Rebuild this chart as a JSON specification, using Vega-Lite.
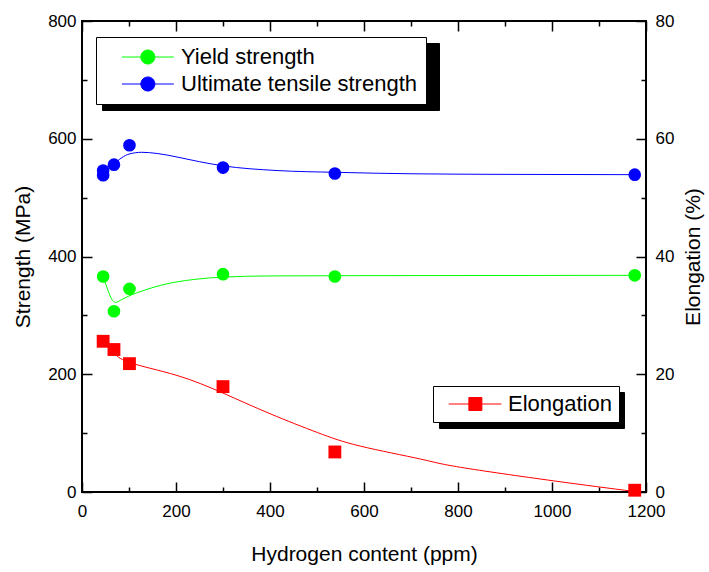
{
  "$schema": "https://vega.github.io/schema/vega-lite/v6.json",
  "width": 564,
  "height": 471,
  "autosize": "none",
  "padding": {"left": 82, "top": 21, "right": 63, "bottom": 80},
  "background": "white",
  "config": {
    "font": "Liberation Sans",
    "view": {"stroke": "black", "strokeWidth": 2},
    "axis": {
      "domain": false,
      "grid": false,
      "format": "d",
      "labelFont": "Liberation Sans",
      "labelFontSize": 17,
      "labelColor": "black",
      "labelOverlap": false,
      "labelFlush": false,
      "labelBound": false,
      "titleFont": "Liberation Sans",
      "titleFontSize": 21,
      "titleFontWeight": "normal",
      "titleColor": "black",
      "tickColor": "black",
      "tickWidth": 1.5
    },
    "legend": {
      "labelFont": "Liberation Sans",
      "labelFontSize": 22,
      "labelColor": "black",
      "labelLimit": 400,
      "symbolStrokeWidth": 1,
      "symbolOpacity": 1,
      "orient": "none"
    }
  },
  "datasets": {
    "strengthPts": [
      {"series": "Yield strength", "h": 45, "v": 366},
      {"series": "Yield strength", "h": 68, "v": 307},
      {"series": "Yield strength", "h": 101, "v": 345},
      {"series": "Yield strength", "h": 300, "v": 370},
      {"series": "Yield strength", "h": 538, "v": 366},
      {"series": "Yield strength", "h": 1176, "v": 368},
      {"series": "Ultimate tensile strength", "h": 45, "v": 538},
      {"series": "Ultimate tensile strength", "h": 45, "v": 546},
      {"series": "Ultimate tensile strength", "h": 68, "v": 556},
      {"series": "Ultimate tensile strength", "h": 101, "v": 589},
      {"series": "Ultimate tensile strength", "h": 300, "v": 551},
      {"series": "Ultimate tensile strength", "h": 538, "v": 541},
      {"series": "Ultimate tensile strength", "h": 1176, "v": 539}
    ],
    "strengthFit": [
      {"series": "Yield strength", "h": 47, "v": 362},
      {"series": "Yield strength", "h": 55, "v": 343},
      {"series": "Yield strength", "h": 63, "v": 328},
      {"series": "Yield strength", "h": 71, "v": 322},
      {"series": "Yield strength", "h": 85, "v": 327},
      {"series": "Yield strength", "h": 100, "v": 333},
      {"series": "Yield strength", "h": 130, "v": 342},
      {"series": "Yield strength", "h": 167, "v": 351},
      {"series": "Yield strength", "h": 238, "v": 361},
      {"series": "Yield strength", "h": 300, "v": 365},
      {"series": "Yield strength", "h": 400, "v": 367},
      {"series": "Yield strength", "h": 600, "v": 367.5},
      {"series": "Yield strength", "h": 1176, "v": 368},
      {"series": "Ultimate tensile strength", "h": 67, "v": 556},
      {"series": "Ultimate tensile strength", "h": 85, "v": 568},
      {"series": "Ultimate tensile strength", "h": 100, "v": 574},
      {"series": "Ultimate tensile strength", "h": 127, "v": 577},
      {"series": "Ultimate tensile strength", "h": 160, "v": 575},
      {"series": "Ultimate tensile strength", "h": 202, "v": 569},
      {"series": "Ultimate tensile strength", "h": 250, "v": 561},
      {"series": "Ultimate tensile strength", "h": 300, "v": 554},
      {"series": "Ultimate tensile strength", "h": 415, "v": 546},
      {"series": "Ultimate tensile strength", "h": 539, "v": 543},
      {"series": "Ultimate tensile strength", "h": 700, "v": 540.5},
      {"series": "Ultimate tensile strength", "h": 900, "v": 539.5},
      {"series": "Ultimate tensile strength", "h": 1176, "v": 539}
    ],
    "elongPts": [
      {"series": "Elongation", "h": 45, "v": 25.6},
      {"series": "Elongation", "h": 68, "v": 24.2},
      {"series": "Elongation", "h": 101, "v": 21.8},
      {"series": "Elongation", "h": 300, "v": 17.9},
      {"series": "Elongation", "h": 538, "v": 6.8},
      {"series": "Elongation", "h": 1176, "v": 0.3}
    ],
    "elongFit": [
      {"series": "Elongation", "h": 67, "v": 23.8},
      {"series": "Elongation", "h": 101, "v": 22.0},
      {"series": "Elongation", "h": 202, "v": 19.8},
      {"series": "Elongation", "h": 300, "v": 16.8},
      {"series": "Elongation", "h": 400, "v": 13.3},
      {"series": "Elongation", "h": 501, "v": 10.1},
      {"series": "Elongation", "h": 592, "v": 7.8},
      {"series": "Elongation", "h": 720, "v": 5.6},
      {"series": "Elongation", "h": 805, "v": 4.2},
      {"series": "Elongation", "h": 1003, "v": 1.9},
      {"series": "Elongation", "h": 1174, "v": 0.1}
    ]
  },
  "resolve": {
    "scale": {"y": "independent", "fill": "independent", "stroke": "independent", "opacity": "independent"},
    "axis": {"x": "independent"}
  },
  "layer": [
    {
      "resolve": {"scale": {"opacity": "independent"}, "legend": {"opacity": "independent"}},
      "encoding": {
        "x": {
          "field": "h", "type": "quantitative",
          "scale": {"domain": [0, 1200], "nice": false},
          "axis": {
            "orient": "bottom",
            "values": [0, 100, 200, 300, 400, 500, 600, 700, 800, 900, 1000, 1100, 1200],
            "labelExpr": "datum.value % 200 === 0 ? datum.label : ''",
            "tickSize": {"condition": {"test": "datum.value % 200 === 0", "value": -10}, "value": -5},
            "labelPadding": 21,
            "title": "Hydrogen content (ppm)",
            "titlePadding": 19
          }
        },
        "y": {
          "field": "v", "type": "quantitative",
          "scale": {"domain": [0, 800], "nice": false},
          "axis": {
            "orient": "left",
            "values": [0, 100, 200, 300, 400, 500, 600, 700, 800],
            "labelExpr": "datum.value % 200 === 0 ? datum.label : ''",
            "tickSize": {"condition": {"test": "datum.value % 200 === 0", "value": -10}, "value": -5},
            "labelPadding": 16,
            "title": "Strength (MPa)",
            "titlePadding": 14
          }
        }
      },
      "layer": [
        {
          "data": {"name": "strengthFit"},
          "mark": {"type": "line", "strokeWidth": 1, "interpolate": "monotone"},
          "encoding": {
            "stroke": {
              "field": "series", "type": "nominal",
              "scale": {"domain": ["Yield strength", "Ultimate tensile strength"], "range": ["#00ff00", "#0000ff"]},
              "legend": {
                "title": null,
                "legendX": 14, "legendY": 16,
                "zindex": 2,
                "strokeColor": "black", "fillColor": "white",
                "padding": 9,
                "rowPadding": 5,
                "symbolSize": 169,
                "symbolType": "M0.9,0H8.9M3.82,0A1.08,1.08,0,1,1,5.98,0A1.08,1.08,0,1,1,3.82,0Z",
                "labelOffset": 54
              }
            }
          }
        },
        {
          "data": {"name": "strengthPts"},
          "mark": {"type": "circle", "size": 160},
          "encoding": {
            "fill": {
              "field": "series", "type": "nominal",
              "scale": {"domain": ["Yield strength", "Ultimate tensile strength"], "range": ["#00ff00", "#0000ff"]},
              "legend": {
                "title": null,
                "legendX": 14, "legendY": 16,
                "zindex": 2,
                "strokeColor": "black", "fillColor": "white",
                "padding": 9,
                "rowPadding": 5,
                "symbolSize": 169,
                "symbolType": "M0.9,0H8.9M3.82,0A1.08,1.08,0,1,1,5.98,0A1.08,1.08,0,1,1,3.82,0Z",
                "labelOffset": 54
              }
            },
            "opacity": {
              "field": "series", "type": "nominal",
              "scale": {"domain": ["Yield strength", "Ultimate tensile strength"], "range": [1, 1]},
              "legend": {
                "title": null,
                "legendX": 20, "legendY": 22,
                "zindex": 1,
                "strokeColor": "black", "fillColor": "black",
                "symbolFillColor": "black", "symbolStrokeColor": "black",
                "padding": 9,
                "rowPadding": 5,
                "symbolSize": 169,
                "symbolType": "M0.9,0H8.9M3.82,0A1.08,1.08,0,1,1,5.98,0A1.08,1.08,0,1,1,3.82,0Z",
                "labelExpr": "''",
                "labelOffset": 297
              }
            }
          }
        }
      ]
    },
    {
      "resolve": {"scale": {"opacity": "independent"}, "legend": {"opacity": "independent"}},
      "encoding": {
        "x": {
          "field": "h", "type": "quantitative",
          "scale": {"domain": [0, 1200], "nice": false},
          "axis": {
            "orient": "top",
            "values": [0, 100, 200, 300, 400, 500, 600, 700, 800, 900, 1000, 1100, 1200],
            "labels": false,
            "tickSize": {"condition": {"test": "datum.value % 200 === 0", "value": -10}, "value": -5},
            "title": null
          }
        },
        "y": {
          "field": "v", "type": "quantitative",
          "scale": {"domain": [0, 80], "nice": false},
          "axis": {
            "orient": "right",
            "values": [0, 10, 20, 30, 40, 50, 60, 70, 80],
            "labelExpr": "datum.value % 20 === 0 ? datum.label : ''",
            "tickSize": {"condition": {"test": "datum.value % 20 === 0", "value": -10}, "value": -5},
            "labelPadding": 19,
            "title": "Elongation (%)",
            "titleAngle": 270,
            "titlePadding": 30
          }
        }
      },
      "layer": [
        {
          "data": {"name": "elongFit"},
          "mark": {"type": "line", "strokeWidth": 1, "interpolate": "natural"},
          "encoding": {
            "stroke": {
              "field": "series", "type": "nominal",
              "scale": {"domain": ["Elongation"], "range": ["#ff0000"]},
              "legend": {
                "title": null,
                "legendX": 351, "legendY": 365,
                "zindex": 2,
                "strokeColor": "black", "fillColor": "white",
                "padding": 7,
                "symbolSize": 169,
                "symbolType": "M-0.35,0H7.75M2.75,-1H4.75V1H2.75Z",
                "labelOffset": 46
              }
            }
          }
        },
        {
          "data": {"name": "elongPts"},
          "mark": {"type": "square", "size": 165},
          "encoding": {
            "fill": {
              "field": "series", "type": "nominal",
              "scale": {"domain": ["Elongation"], "range": ["#ff0000"]},
              "legend": {
                "title": null,
                "legendX": 351, "legendY": 365,
                "zindex": 2,
                "strokeColor": "black", "fillColor": "white",
                "padding": 7,
                "symbolSize": 169,
                "symbolType": "M-0.35,0H7.75M2.75,-1H4.75V1H2.75Z",
                "labelOffset": 46
              }
            },
            "opacity": {
              "field": "series", "type": "nominal",
              "scale": {"domain": ["Elongation"], "range": [1]},
              "legend": {
                "title": null,
                "legendX": 357, "legendY": 371,
                "zindex": 1,
                "strokeColor": "black", "fillColor": "black",
                "symbolFillColor": "black", "symbolStrokeColor": "black",
                "padding": 7,
                "symbolSize": 169,
                "symbolType": "M-0.35,0H7.75M2.75,-1H4.75V1H2.75Z",
                "labelExpr": "''",
                "labelOffset": 149
              }
            }
          }
        }
      ]
    }
  ]
}
